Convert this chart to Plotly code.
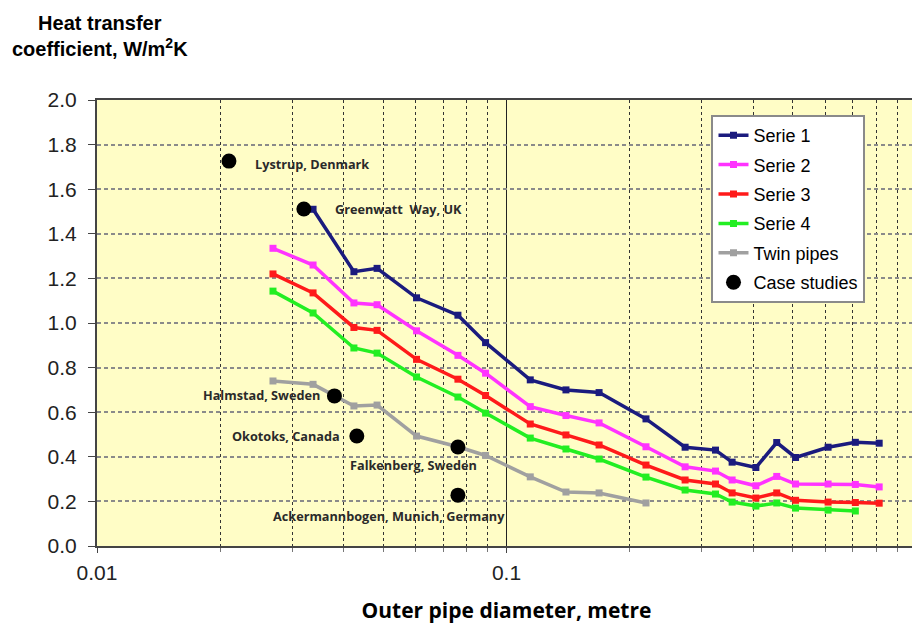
import math
import plotly.graph_objects as go

# ---- data ----
diam_s1 = [0.0337, 0.0424, 0.0483, 0.0603, 0.0761, 0.0889, 0.1143, 0.1397, 0.1683, 0.2191,
           0.273, 0.3239, 0.3556, 0.4064, 0.457, 0.508, 0.61, 0.711, 0.813]
serie1 = [1.51, 1.23, 1.245, 1.113, 1.035, 0.912, 0.745, 0.70, 0.688, 0.57,
          0.443, 0.43, 0.376, 0.352, 0.464, 0.397, 0.443, 0.465, 0.461]

diam_s2 = [0.0269, 0.0337, 0.0424, 0.0483, 0.0603, 0.0761, 0.0889, 0.1143, 0.1397, 0.1683, 0.2191,
           0.273, 0.3239, 0.3556, 0.4064, 0.457, 0.508, 0.61, 0.711, 0.813]
serie2 = [1.335, 1.26, 1.09, 1.082, 0.965, 0.855, 0.775, 0.625, 0.585, 0.552, 0.445,
          0.355, 0.336, 0.296, 0.27, 0.312, 0.278, 0.278, 0.276, 0.265]
serie3 = [1.22, 1.135, 0.98, 0.967, 0.837, 0.748, 0.675, 0.547, 0.498, 0.453, 0.363,
          0.296, 0.278, 0.238, 0.215, 0.238, 0.205, 0.197, 0.195, 0.192]

diam_s4 = [0.0269, 0.0337, 0.0424, 0.0483, 0.0603, 0.0761, 0.0889, 0.1143, 0.1397, 0.1683, 0.2191,
           0.273, 0.3239, 0.3556, 0.4064, 0.457, 0.508, 0.61, 0.711]
serie4 = [1.143, 1.045, 0.888, 0.865, 0.758, 0.668, 0.596, 0.484, 0.435, 0.39, 0.309,
          0.251, 0.233, 0.197, 0.179, 0.193, 0.17, 0.161, 0.157]

diam_twin = [0.0269, 0.0337, 0.0424, 0.0483, 0.0603, 0.0761, 0.0889, 0.1143, 0.1397, 0.1683, 0.2191]
twin = [0.74, 0.725, 0.628, 0.632, 0.493, 0.445, 0.406, 0.31, 0.242, 0.238, 0.193]

case_names = ["Lystrup, Denmark", "Greenwatt  Way, UK", "Halmstad, Sweden",
              "Okotoks, Canada", "Falkenberg, Sweden", "Ackermannbogen, Munich, Germany"]
case_diam = [0.021, 0.032, 0.038, 0.0431, 0.0761, 0.0761]
case_u = [1.726, 1.511, 0.673, 0.493, 0.444, 0.228]

y_ticks = [0.0, 0.2, 0.4, 0.6, 0.8, 1.0, 1.2, 1.4, 1.6, 1.8, 2.0]
x_ticks = [0.01, 0.1, 1]
x_ticklabels = ["0.01", "0.1", "1"]

# ---- styles ----
series = [
    ("Serie 1", diam_s1, serie1, "#1B1B7E"),
    ("Serie 2", diam_s2, serie2, "#FF33FF"),
    ("Serie 3", diam_s2, serie3, "#FF1A1A"),
    ("Serie 4", diam_s4, serie4, "#22EE22"),
    ("Twin pipes", diam_twin, twin, "#A0A0A0"),
]
# label placement: (xanchor, xshift, yshift)
label_pos = [("left", 24, -3), ("left", 29, 0), ("right", -12, 1),
             ("right", -15, 0), ("center", -44, -18), ("center", -69, -21)]

# page body has an 8px default margin: figure is sized so the page is filled
W, H = 912, 616
ML, MT, MR, MB = 89, 92, 2, 78
PW, PH = W - ML - MR, H - MT - MB

fig = go.Figure()
for name, xs, ys, col in series:
    fig.add_trace(go.Scatter(
        x=xs, y=ys, name=name, legendgroup=name, mode="lines+markers",
        line=dict(color=col, width=3.5),
        marker=dict(symbol="square", size=7, color=col),
    ))

fig.add_trace(go.Scatter(
    x=case_diam, y=case_u, name="Case studies", legendgroup="Case studies", mode="markers",
    marker=dict(symbol="circle", size=15, color="black"),
))

# annotations on a log axis take log10 of the data value
for nm, xv, yv, (xa, xs, ys) in zip(case_names, case_diam, case_u, label_pos):
    fig.add_annotation(
        x=math.log10(xv), y=yv, xref="x", yref="y", text=nm, showarrow=False,
        xanchor=xa, yanchor="middle", xshift=xs, yshift=ys,
        font=dict(family="Open Sans", size=12.7, color="#2a2a2a", weight="bold"),
    )

fig.add_annotation(
    xref="paper", yref="paper", x=0, y=1 + (MT - 28) / PH,
    xshift=3,
    text="Heat transfer<br>coefficient, W/m<sup>2</sup>K", showarrow=False,
    xanchor="center", yanchor="middle", align="center",
    font=dict(family="Liberation Sans, Arial", size=20, color="black", weight="bold"),
)

fig.update_layout(
    width=W, height=H,
    margin=dict(l=ML, r=MR, t=MT, b=MB),
    paper_bgcolor="white",
    plot_bgcolor="#FFFDC6",
    showlegend=True,
    legend=dict(
        x=(705 - ML) / PW, y=(538 - 107) / PH, xanchor="left", yanchor="top",
        bgcolor="white", bordercolor="#8a8a8a", borderwidth=2,
        font=dict(family="Liberation Sans, Arial", size=18, color="black"),
        tracegroupgap=3,
    ),
    xaxis=dict(
        type="log", range=[-2, 0],
        tickvals=x_ticks, ticktext=x_ticklabels,
        tickfont=dict(family="Liberation Sans, Arial", size=21, color="#222"),
        showgrid=True, gridcolor="#222", gridwidth=1,
        showline=True, linecolor="#444", linewidth=2, mirror=True,
        ticks="outside", ticklen=5, tickcolor="#444",
        ticklabelstandoff=2,
        minor=dict(dtick="D1", showgrid=True, gridcolor="#333", griddash="3px,3px",
                   gridwidth=1, ticks="outside", ticklen=4, tickcolor="#777"),
        title=dict(text="Outer pipe diameter, metre",
                   font=dict(family="Open Sans", size=21, color="black", weight="bold"),
                   standoff=21),
        zeroline=False,
    ),
    yaxis=dict(
        range=[0, 2], tickvals=y_ticks, tickformat=".1f",
        tickfont=dict(family="Liberation Sans, Arial", size=21, color="#222"),
        showgrid=True, gridcolor="#8a8a8a", gridwidth=1.5, griddash="4px,3px",
        showline=True, linecolor="#444", linewidth=2, mirror=True,
        ticks="outside", ticklen=7, tickcolor="#444",
        ticklabelstandoff=7,
        zeroline=False,
    ),
)

fig.write_html("out.html")
